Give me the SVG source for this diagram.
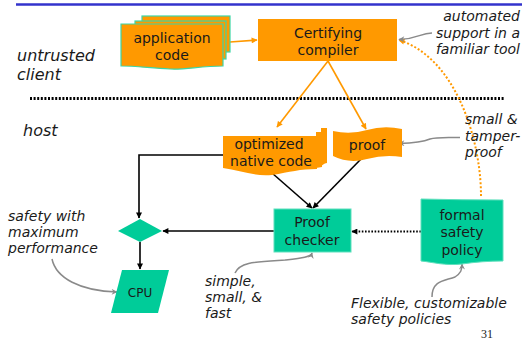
<svg xmlns="http://www.w3.org/2000/svg" width="527" height="359" viewBox="0 0 527 359">
  <style>
    .box { font-family: "DejaVu Sans", Verdana, sans-serif; font-size: 14px; fill: #1a1a1a; text-anchor: middle; }
    .note { font-family: "DejaVu Sans", Verdana, sans-serif; font-size: 14px; font-style: italic; fill: #1a1a1a; }
    .zone { font-family: "DejaVu Sans", Verdana, sans-serif; font-size: 16px; font-style: italic; fill: #1a1a1a; }
    .orange { fill: #ff9900; }
    .teal { fill: #00cc99; }
    .tealEdge { fill: #00cc99; stroke: #5fe0bd; stroke-width: 1; }
    .appDoc { fill: #ff9900; stroke: #3cd6a6; stroke-width: 1.2; }
    .flow { fill: none; stroke: #000; stroke-width: 1.6; }
    .flowDot { fill: none; stroke: #000; stroke-width: 1.8; stroke-dasharray: 1.6 1.6; }
    .gen { fill: none; stroke: #ff9900; stroke-width: 1.6; }
    .genDot { fill: none; stroke: #ff9900; stroke-width: 2; stroke-dasharray: 2 2; }
    .call { fill: none; stroke: #8a8a8a; stroke-width: 1.5; }
  </style>
  <defs>
    <marker id="ah-black" viewBox="0 0 10 10" refX="9" refY="5" markerWidth="7" markerHeight="6" markerUnits="userSpaceOnUse" orient="auto">
      <path d="M0,0 L10,5 L0,10 Z" fill="#000"/>
    </marker>
    <marker id="ah-orange" viewBox="0 0 10 10" refX="9" refY="5" markerWidth="7" markerHeight="6" markerUnits="userSpaceOnUse" orient="auto">
      <path d="M0,0 L10,5 L0,10 Z" fill="#ff9900"/>
    </marker>
    <marker id="ah-gray" viewBox="0 0 10 10" refX="9" refY="5" markerWidth="7" markerHeight="6" markerUnits="userSpaceOnUse" orient="auto">
      <path d="M0,0 L10,5 L0,10 L3,5 Z" fill="#8a8a8a"/>
    </marker>
  </defs>

  <!-- title rule -->
  <line x1="16" y1="4.5" x2="522" y2="4.5" stroke="#3333cc" stroke-width="2.5"/>

  <!-- trust boundary -->
  <line x1="30" y1="98.5" x2="505" y2="98.5" stroke="#000" stroke-width="3" stroke-dasharray="2 1.6"/>

  <!-- zone labels -->
  <text class="zone" x="17" y="61">untrusted</text>
  <text class="zone" x="17" y="80">client</text>
  <text class="zone" x="23" y="136">host</text>

  <!-- connectors -->
  <g id="connectors">
    <path class="gen" d="M230,42 L257,40" marker-end="url(#ah-orange)"/>
    <path class="gen" d="M328,61 L277,127" marker-end="url(#ah-orange)"/>
    <path class="gen" d="M328,61 L366,129" marker-end="url(#ah-orange)"/>
    <path class="genDot" d="M481,196 C481,140 456,58 399,40" marker-end="url(#ah-orange)"/>
    <path class="flow" d="M223,155 H139 V218" marker-end="url(#ah-black)"/>
    <path class="flow" d="M272,173 L312,208" marker-end="url(#ah-black)"/>
    <path class="flow" d="M362,158 L313,208" marker-end="url(#ah-black)"/>
    <path class="flow" d="M274,231 H163" marker-end="url(#ah-black)"/>
    <path class="flow" d="M140,242 V269" marker-end="url(#ah-black)"/>
    <path class="flowDot" d="M421,231.5 H352" marker-end="url(#ah-black)"/>
    <path class="call" d="M432,33 C420,33 418,39 399,39.5" marker-end="url(#ah-gray)"/>
    <path class="call" d="M460,137.5 C440,137.5 436,137 430,139 C423,142 415,143 399,143.5" marker-end="url(#ah-gray)"/>
    <path class="call" d="M52,259 C56,278 80,291 117,292" marker-end="url(#ah-gray)"/>
    <path class="call" d="M235,273 C240,262 255,262 285,260 C302,258 311,257 312,253" marker-end="url(#ah-gray)"/>
    <path class="call" d="M432,297 C432,280 445,281 455,277 C461,273 462,270 462,264" marker-end="url(#ah-gray)"/>
  </g>

  <!-- application code: stacked documents -->
  <g id="app-code">
    <rect class="appDoc" x="142" y="16" width="88" height="36"/>
    <rect class="appDoc" x="135" y="21" width="91" height="38"/>
    <path class="appDoc" d="M121,24 H223 V66 C200,66 185,70 170,69 C150,68 135,66 121,66 Z"/>
    <text class="box" x="172" y="43">application</text>
    <text class="box" x="172" y="60">code</text>
  </g>

  <!-- certifying compiler -->
  <g id="compiler">
    <rect class="orange" x="258" y="19" width="139" height="42"/>
    <text class="box" x="328" y="38">Certifying</text>
    <text class="box" x="328" y="55">compiler</text>
  </g>

  <!-- optimized native code: multi-document -->
  <g id="native-code">
    <path class="orange" d="M232,128 H327 V163 C324,163 322,166 321,166 V128 Z"/>
    <path class="orange" d="M228,132 H322 V167 L316,168 V132 Z"/>
    <path class="orange" d="M223,136 H317 V169 C300,169 290,172 272,175 C255,177 240,170 223,168 Z"/>
    <text class="box" x="269" y="149">optimized</text>
    <text class="box" x="271" y="166">native code</text>
  </g>

  <!-- proof: punched tape -->
  <g id="proof">
    <path class="orange" d="M333,131 Q350,135 367,130 T402,129 V157 Q385,154 367,159 T333,156 Z"/>
    <text class="box" x="367" y="150">proof</text>
  </g>

  <!-- proof checker -->
  <g id="proof-checker">
    <rect class="tealEdge" x="274" y="209" width="77" height="43"/>
    <text class="box" x="312" y="227">Proof</text>
    <text class="box" x="312" y="245">checker</text>
  </g>

  <!-- formal safety policy: document -->
  <g id="safety-policy">
    <path class="tealEdge" d="M421,199 Q462,200 503,200 V261 C490,261 475,262 462,264 C445,266 432,262 421,261 Z"/>
    <text class="box" x="462" y="220">formal</text>
    <text class="box" x="462" y="237">safety</text>
    <text class="box" x="462" y="255">policy</text>
  </g>

  <!-- decision -->
  <g id="decision">
    <path class="teal" d="M140,219 L162,231 L140,242 L118,231 Z"/>
  </g>

  <!-- CPU -->
  <g id="cpu">
    <path class="teal" d="M122,270 H169 L158,313 H111 Z"/>
    <text class="box" x="140" y="297" style="font-size:12px">CPU</text>
  </g>

  <!-- annotations -->
  <text class="note" text-anchor="end" x="520" y="21">automated</text>
  <text class="note" text-anchor="end" x="520" y="38">support in a</text>
  <text class="note" text-anchor="end" x="520" y="54">familiar tool</text>
  <text class="note" x="465" y="124">small &amp;</text>
  <text class="note" x="465" y="141">tamper-</text>
  <text class="note" x="465" y="157">proof</text>
  <text class="note" x="8" y="221">safety with</text>
  <text class="note" x="8" y="237">maximum</text>
  <text class="note" x="8" y="253">performance</text>
  <text class="note" x="205" y="286">simple,</text>
  <text class="note" x="205" y="302">small, &amp;</text>
  <text class="note" x="205" y="318">fast</text>
  <text class="note" x="351" y="308">Flexible, customizable</text>
  <text class="note" x="351" y="324">safety policies</text>
  <text x="481" y="338" style="font-family:'Liberation Serif',serif;font-size:12px;fill:#1a1a1a">31</text>
</svg>
